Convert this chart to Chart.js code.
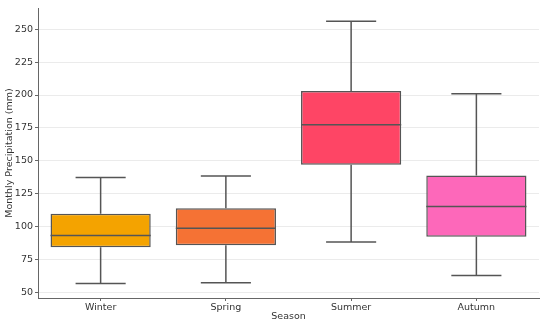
<!DOCTYPE html>
<html>
<head>
<meta charset="utf-8">
<script src="https://cdn.jsdelivr.net/npm/chart.js@4.4.1/dist/chart.umd.min.js"></script>
<style>
  html, body { margin: 0; padding: 0; background: #fff; }
  #wrap { width: 550px; height: 326px; }
</style>
</head>
<body>
<div id="wrap"><canvas id="chart" width="550" height="326"></canvas></div>
<script>
// ------------ DATA ---------------
const seasons = ["Winter", "Spring", "Summer", "Autumn"];
const minVals = [57, 57.5, 88.5, 63];
const q1Vals = [84.5, 86, 147, 92.5];
const medianVals = [93.5, 99, 177.5, 115.5];
const q3Vals = [110, 114, 203, 139];
const maxVals = [137.5, 138.5, 256, 201];
const boxColors = ["#f4a300", "#f57234", "#fe4565", "#fd68ba"];
const yTicks = [50, 75, 100, 125, 150, 175, 200, 225, 250];

const lineColor = "#555555";
const fontFamily = "'DejaVu Sans', sans-serif";

// whiskers + medians drawn on top of the floating bars
const boxPlotLines = {
  id: "boxPlotLines",
  afterDatasetsDraw(chart) {
    const ctx = chart.ctx;
    const y = chart.scales.y;
    const bars = chart.getDatasetMeta(0).data;
    ctx.save();
    ctx.strokeStyle = lineColor;
    ctx.lineWidth = 1.5;
    bars.forEach((bar, i) => {
      const cx = bar.x;
      const half = bar.width / 2;
      const cap = bar.width / 4;
      const yMin = y.getPixelForValue(minVals[i]);
      const yQ1 = y.getPixelForValue(q1Vals[i]);
      const yMed = y.getPixelForValue(medianVals[i]);
      const yQ3 = y.getPixelForValue(q3Vals[i]);
      const yMax = y.getPixelForValue(maxVals[i]);
      ctx.beginPath();
      // lower whisker
      ctx.moveTo(cx, yQ1); ctx.lineTo(cx, yMin);
      ctx.moveTo(cx - cap, yMin); ctx.lineTo(cx + cap, yMin);
      // upper whisker
      ctx.moveTo(cx, yQ3); ctx.lineTo(cx, yMax);
      ctx.moveTo(cx - cap, yMax); ctx.lineTo(cx + cap, yMax);
      // median
      ctx.moveTo(cx - half, yMed); ctx.lineTo(cx + half, yMed);
      ctx.stroke();
    });
    ctx.restore();
  }
};

new Chart(document.getElementById("chart"), {
  type: "bar",
  data: {
    labels: seasons,
    datasets: [
      {
        label: "Monthly Precipitation",
        data: seasons.map((s, i) => [q1Vals[i], q3Vals[i]]),
        backgroundColor: boxColors,
        borderColor: lineColor,
        borderWidth: 1.5,
        borderSkipped: false,
        barPercentage: 0.8,
        categoryPercentage: 1
      }
    ]
  },
  options: {
    responsive: false,
    animation: false,
    layout: { padding: { top: 8, right: 11, left: 0, bottom: 0 } },
    plugins: {
      legend: { display: false },
      tooltip: { enabled: false }
    },
    scales: {
      x: {
        offset: true,
        grid: { display: true, drawOnChartArea: false, offset: false, tickLength: 3, tickColor: "#666" },
        border: { color: "#666", width: 1 },
        ticks: { color: "#333", padding: 1, font: { family: fontFamily, size: 9.5 } },
        title: { display: true, text: "Season", color: "#333", padding: { top: 0, bottom: 4 }, font: { family: fontFamily, size: 9.5 } },
        afterFit: s => { s.height = 28; }
      },
      y: {
        min: 46,
        max: 266,
        afterBuildTicks: s => { s.ticks = yTicks.map(v => ({ value: v })); },
        grid: { color: "#ebebeb", tickLength: 3, tickColor: "#666" },
        border: { color: "#666", width: 1 },
        ticks: { color: "#333", padding: 2, font: { family: fontFamily, size: 9.5 } },
        title: { display: true, text: "Monthly Precipitation (mm)", color: "#333", padding: { top: 4, bottom: 0 }, font: { family: fontFamily, size: 9.5 } },
        afterFit: s => { s.width = 38; }
      }
    }
  },
  plugins: [boxPlotLines]
});
</script>
</body>
</html>
